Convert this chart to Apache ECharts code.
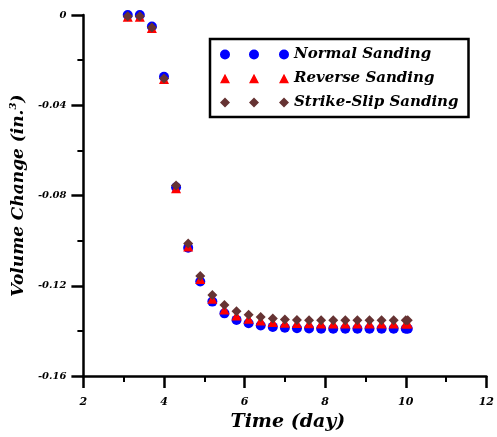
<!DOCTYPE html>
<html>
<head>
<meta charset="utf-8">
<script src="https://cdn.jsdelivr.net/npm/echarts@6/dist/echarts.min.js"></script>
<style>
  html, body { margin: 0; padding: 0; background: #fff; }
  #chart { width: 497px; height: 437px; }
</style>
</head>
<body>
<div id="chart"></div>
<script>
// Elapsed time of each measurement (day)
const days = [3.1, 3.4, 3.7, 4.0, 4.3, 4.6, 4.9, 5.2, 5.5, 5.8, 6.1, 6.4, 6.7,
              7.0, 7.3, 7.6, 7.9, 8.2, 8.5, 8.8, 9.1, 9.4, 9.7, 10.0, 10.05];

// Volume change (in.^3) for each sanding mode
const normalSanding = [0, 0, -0.0051, -0.0274, -0.0763, -0.1031, -0.1181, -0.1270,
  -0.1322, -0.1351, -0.1366, -0.1376, -0.1382, -0.1386, -0.1388, -0.1389, -0.1390,
  -0.1390, -0.1390, -0.1390, -0.1390, -0.1390, -0.1390, -0.1390, -0.1390];
const reverseSanding = [-0.0008, -0.0008, -0.0058, -0.0284, -0.0768, -0.1026, -0.1170,
  -0.1257, -0.1305, -0.1332, -0.1346, -0.1354, -0.1360, -0.1364, -0.1365, -0.1366,
  -0.1367, -0.1367, -0.1367, -0.1367, -0.1367, -0.1367, -0.1367, -0.1367, -0.1367];
const strikeSlipSanding = [-0.0006, -0.0006, -0.0055, -0.0281, -0.0755, -0.1013, -0.1157,
  -0.1241, -0.1285, -0.1313, -0.1328, -0.1338, -0.1345, -0.1349, -0.1351, -0.1352,
  -0.1353, -0.1353, -0.1353, -0.1353, -0.1353, -0.1353, -0.1353, -0.1353, -0.1353];

const seriesNames = ['Normal Sanding', 'Reverse Sanding', 'Strike-Slip Sanding'];
const xTicks = [2, 4, 6, 8, 10, 12];
const yTicks = [0, -0.04, -0.08, -0.12, -0.16];

const FONT = 'DejaVu Serif';
const pairs = (ys) => days.map((d, i) => [d, ys[i]]);

// Legend keys show three copies of each marker
const legendIcons = [
  'path://M0,5A5,5,0,1,1,10,5A5,5,0,1,1,0,5ZM29,5A5,5,0,1,1,39,5A5,5,0,1,1,29,5ZM59,5A5,5,0,1,1,69,5A5,5,0,1,1,59,5Z',
  'path://M5,0L10,9.5L0,9.5ZM34,0L39,9.5L29,9.5ZM64,0L69,9.5L59,9.5Z',
  'path://M5,0L10,5L5,10L0,5ZM34,0L39,5L34,10L29,5ZM64,0L69,5L64,10L59,5Z'
];

const axisFont = { fontFamily: FONT, fontWeight: 'bold', fontStyle: 'italic', color: '#000' };

const chart = echarts.init(document.getElementById('chart'), null, { renderer: 'canvas' });
chart.setOption({
  animation: false,
  backgroundColor: '#fff',
  grid: { left: 83, right: 7, top: 15, bottom: 57, containLabel: false },
  legend: {
    orient: 'vertical',
    left: 210,
    top: 39,
    padding: [8, 10, 7, 10],
    itemGap: 9,
    itemWidth: 69,
    itemHeight: 10,
    borderColor: '#000',
    borderWidth: 2.5,
    selectedMode: false,
    textStyle: { fontFamily: FONT, fontWeight: 'bold', fontStyle: 'italic', fontSize: 15, color: '#000' },
    data: seriesNames.map((n, i) => ({ name: n, icon: legendIcons[i] }))
  },
  xAxis: {
    type: 'value',
    min: 2, max: 12, interval: 2,
    name: 'Time (day)',
    nameLocation: 'middle',
    nameGap: 33,
    nameTextStyle: Object.assign({ fontSize: 19, padding: [0, 0, 0, 6] }, axisFont),
    axisLine: { onZero: false, lineStyle: { color: '#000', width: 2.5 } },
    axisTick: { inside: false, length: 12, lineStyle: { color: '#000', width: 2.5 } },
    minorTick: { show: true, splitNumber: 2, length: 6, lineStyle: { color: '#000', width: 2 } },
    splitLine: { show: false },
    axisLabel: Object.assign({ fontSize: 11, margin: 21,
      formatter: (v) => (xTicks.includes(v) ? String(v) : '') }, axisFont)
  },
  yAxis: {
    type: 'value',
    min: -0.16, max: 0, interval: 0.04,
    name: '{t|Volume Change (in.}{s|3}{t|)}',
    nameLocation: 'middle',
    nameGap: 51,
    nameTextStyle: {
      rich: {
        t: Object.assign({ fontSize: 17, lineHeight: 21 }, axisFont),
        s: Object.assign({ fontSize: 10, lineHeight: 21, verticalAlign: 'top' }, axisFont)
      }
    },
    axisLine: { onZero: false, lineStyle: { color: '#000', width: 2.5 } },
    axisTick: { inside: false, length: 12, lineStyle: { color: '#000', width: 2.5 } },
    minorTick: { show: true, splitNumber: 2, length: 6, lineStyle: { color: '#000', width: 2 } },
    splitLine: { show: false },
    axisLabel: Object.assign({ fontSize: 10, margin: 17,
      formatter: (v) => {
        const t = yTicks.find((y) => Math.abs(y - v) < 1e-9);
        return t === undefined ? '' : (t === 0 ? '0' : t.toFixed(2));
      } }, axisFont)
  },
  series: [
    { name: seriesNames[0], type: 'scatter', symbol: 'circle', symbolSize: 10,
      itemStyle: { color: '#0000ff', opacity: 1 }, data: pairs(normalSanding), z: 2 },
    { name: seriesNames[1], type: 'scatter', symbol: 'triangle', symbolSize: 10,
      itemStyle: { color: '#ff0000', opacity: 1 }, data: pairs(reverseSanding), z: 3 },
    { name: seriesNames[2], type: 'scatter', symbol: 'diamond', symbolSize: 10,
      itemStyle: { color: '#663333', opacity: 1 }, data: pairs(strikeSlipSanding), z: 4 }
  ]
});
</script>
</body>
</html>
